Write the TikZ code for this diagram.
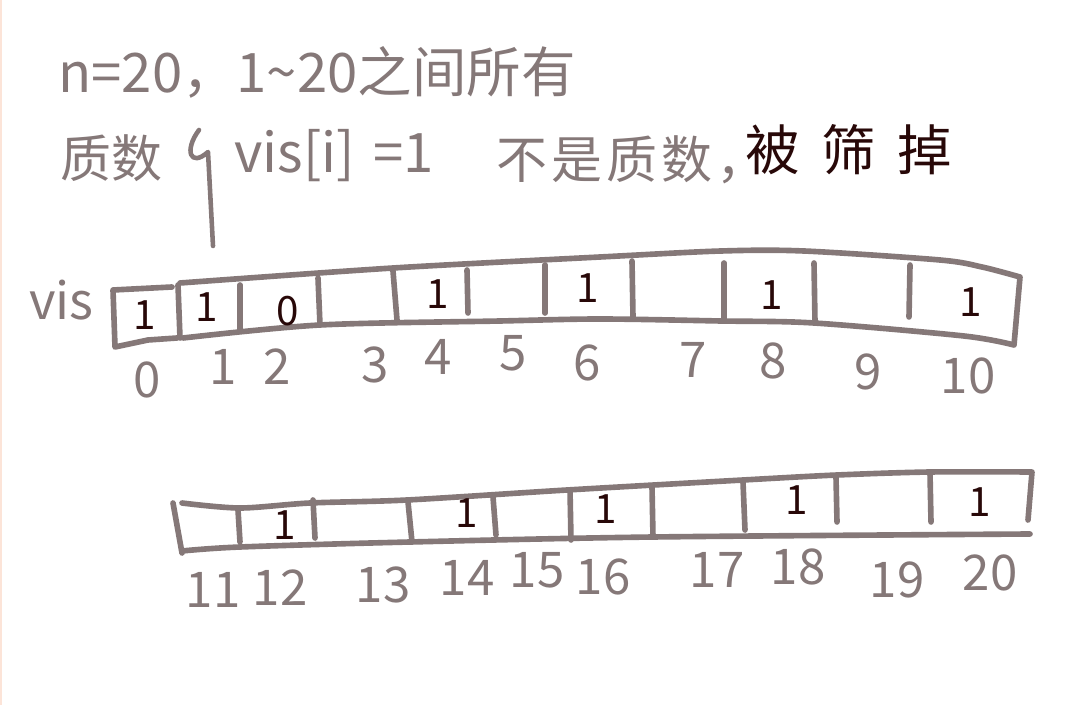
\documentclass[tikz,border=0pt]{standalone}
\usepackage{fontspec}
\setmainfont{Noto Sans CJK SC}
\usetikzlibrary{positioning}
\definecolor{pencolor}{RGB}{133,120,120}
\definecolor{inkcolor}{RGB}{40,8,8}
\definecolor{edgecolor}{RGB}{252,228,216}

\begin{document}
\begin{tikzpicture}[x=0.02cm, y=-0.02cm, line cap=round, line join=round,
  pen/.style={draw=pencolor, line width=3.2pt},
  thinpen/.style={draw=pencolor, line width=2.6pt},
  notetext/.style={text=pencolor, font=\fontsize{29}{32}\selectfont, inner sep=0pt, anchor=west},
  idxlabel/.style={text=pencolor, font=\fontsize{28}{30}\selectfont, inner sep=0pt},
  bitval/.style={text=inkcolor, font=\fontsize{23}{25}\selectfont, inner sep=0pt}]
        %\draw [step=50, very thin, lightgray] (0, 0) grid (1092,705);
        \useasboundingbox (0,0) rectangle (1092,705);
        \fill [white] (0,0) rectangle (1092,705);
        \draw [edgecolor, line width=1.2pt] (1,0) -- (1,705);

        % text above the arrays
        \node [notetext, font=\fontsize{31}{34}\selectfont] (title) at (58,72) {n=20，1\textasciitilde 20之间所有};
        \node [notetext] (prime) at (60,158) {质数};
        \node [notetext, font=\fontsize{31}{34}\selectfont] (cond) at (234,156) {vis[i]\,\,=1};
        \node [notetext, font=\fontsize{29}{32}\selectfont\addfontfeature{LetterSpace=8}] (notprime) at (496,160) {不是质数，};
        \node [notetext, text=inkcolor, font=\fontsize{31}{34}\selectfont\addfontfeature{LetterSpace=40}] (sieved) at (745,150) {被筛掉};
        \node [notetext] (vislabel) at (29,300) {vis};

        % pointer from the text down to vis[1]
        \coordinate (hooktop) at (199,130);
        \coordinate (hookend) at (213,246);
        \draw [thinpen] (hooktop) .. controls (184,150) and (190,168) .. (208,152) -- (hookend);

        % top array, 0 .. 10
        \draw [pen] (172,287) -- (113,290) -- (115,347) -- (148,340) -- (177,338);
        \draw [pen] (178,285) -- (180,338);
        \draw [pen] plot [smooth] coordinates {(180,283) (393,268) (600,257) (721,251) (804,251) (940,260) (982,267) (1020,277)}
              -- (1014,345)
              plot [smooth] coordinates {(1014,345) (964,336) (814,323) (721,321) (600,319) (500,321) (320,325) (183,338)};
        \draw [pen] (240,285) -- (240,330);
        \draw [pen] (318,278) -- (320,325);
        \draw [pen] (393,271) -- (397,320);
        \draw [pen] (467,270) -- (468,313);
        \draw [pen] (545,265) -- (545,313);
        \draw [pen] (632,261) -- (633,317);
        \draw [pen] (724,263) -- (724,320);
        \draw [pen] (814,263) -- (815,322);
        \draw [pen] (910,265) -- (909,317);

        \node [bitval] (v0) at (145,315) {1};
        \node [bitval] (v1) at (207,307) {1};
        \node [bitval] (v2) at (288,311) {0};
        \node [bitval] (v4) at (438,294) {1};
        \node [bitval] (v6) at (588,288) {1};
        \node [bitval] (v8) at (772,295) {1};
        \node [bitval] (v10) at (971,302) {1};

        \foreach \i/\x/\y in {0/147/380, 1/223/367, 2/277/367, 3/375/365, 4/438/357, 5/513/353,
                              6/587/363, 7/693/360, 8/773/361, 9/868/372, 10/968/376}
            \node [idxlabel] (i\i) at (\x,\y) {\i};

        % bottom array, 11 .. 20
        \draw [pen] (173,503) -- (182,553);
        \draw [pen] plot [smooth] coordinates {(182,503) (240,508) (310,503) (407,500) (567,490) (743,480) (837,475) (930,472) (1032,472)}
              -- (1028,520);
        \draw [pen] plot [smooth] coordinates {(182,551) (240,547) (410,542) (653,537) (1030,534)};
        \draw [pen] (238,510) -- (240,542);
        \draw [pen] (313,500) -- (315,538);
        \draw [pen] (408,502) -- (412,542);
        \draw [pen] (493,497) -- (496,535);
        \draw [pen] (570,490) -- (571,540);
        \draw [pen] (652,487) -- (653,537);
        \draw [pen] (743,482) -- (745,530);
        \draw [pen] (836,477) -- (837,522);
        \draw [pen] (930,473) -- (931,522);

        \node [bitval] (v12) at (285,525) {1};
        \node [bitval] (v14) at (467,513) {1};
        \node [bitval] (v16) at (606,509) {1};
        \node [bitval] (v18) at (797,500) {1};
        \node [bitval] (v20) at (980,502) {1};

        \foreach \i/\x/\y in {11/213/590, 12/280/588, 13/383/585, 14/467/578, 15/537/570,
                              16/603/577, 17/717/570, 18/798/567, 19/897/580, 20/990/573}
            \node [idxlabel] (i\i) at (\x,\y) {\i};
    \end{tikzpicture}
\end{document}
